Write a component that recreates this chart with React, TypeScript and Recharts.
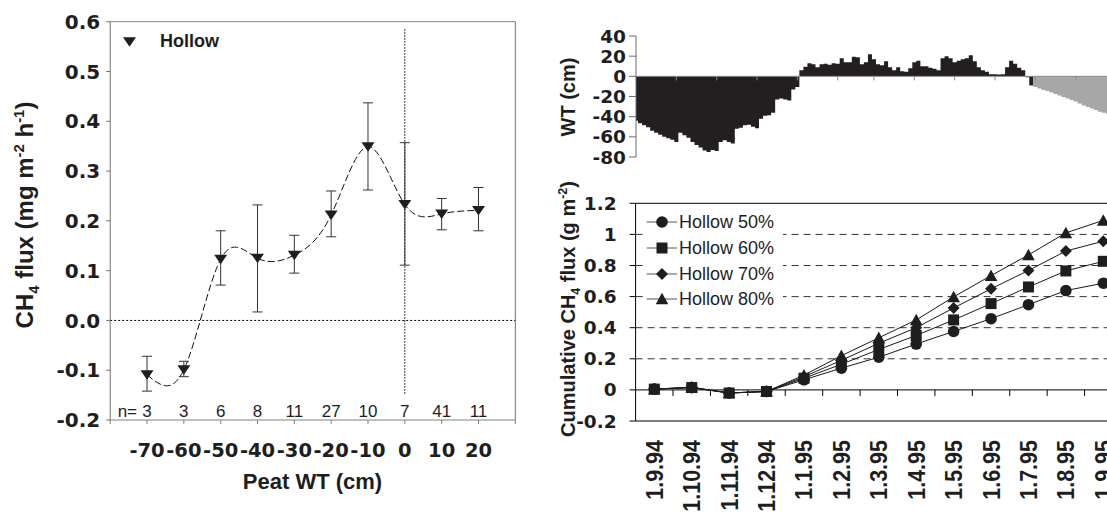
import React from 'react';
import {
  ComposedChart, LineChart, AreaChart, Line, Area, Scatter,
  XAxis, YAxis, ErrorBar, ReferenceLine,
} from 'recharts';

const SANS = '"Liberation Sans", Arial, Helvetica, sans-serif';
const NUM = '"DejaVu Sans", Verdana, sans-serif';
const INK = '#1e1e1e';

// ---- left panel: hollow CH4 flux against peat water table
const peatWt = [-70, -60, -50, -40, -30, -20, -10, 0, 10, 20];
const fluxMean = [-0.109, -0.099, 0.123, 0.125, 0.131, 0.212, 0.349, 0.233, 0.214, 0.221];
const fluxUpper = [-0.072, -0.082, 0.180, 0.232, 0.171, 0.260, 0.437, 0.357, 0.245, 0.267];
const fluxLower = [-0.142, -0.113, 0.071, 0.017, 0.095, 0.168, 0.262, 0.111, 0.182, 0.180];
const sampleN = [3, 3, 6, 8, 11, 27, 10, 7, 41, 11];
const peatTicks = [-80, -70, -60, -50, -40, -30, -20, -10, 0, 10, 20, 30];
const peatLabelled = [-70, -60, -50, -40, -30, -20, -10, 0, 10, 20];
const fluxTicks = [-0.2, -0.1, 0, 0.1, 0.2, 0.3, 0.4, 0.5, 0.6];
const nRowY = -0.193;

// ---- top right: water table record (cm), measured then estimated
const wtMeasured = [
  -44, -46.5, -48.5, -50.5, -54, -56, -58, -60, -61.5, -63,
  -65, -56, -58.5, -61, -65, -68, -70.5, -73.5, -75, -73,
  -74, -65, -63.5, -65, -66.5, -52, -51, -48.5, -48, -50,
  -51.5, -42, -39, -38.5, -36, -23, -22, -23, -24, -13,
  -10.5, 6, 9.5, 13, 12, 9, 12, 12.5, 11.5, 13,
  12.5, 18, 14, 14, 19.5, 19, 12, 14, 22, 17,
  12, 11, 15, 9, 6, 9, 5, 4.5, 8, 14,
  15.5, 10, 10, 8.5, 7.5, 6, 18, 20, 18, 14,
  15.5, 17, 18, 21, 15, 9, 6, 4.5, 2, 2,
  1.7, 2, 9, 15.5, 12.5, 8.5, 6, -1, -9,
];
const wtEstimated = [
  -10.5, -12, -13.5, -14.5, -16, -17.5, -19, -20.5, -22, -23.5,
  -25, -27, -29, -30.5, -32, -33.5, -35, -36, -37, -38, -39,
];
const wtTicks = [-80, -60, -40, -20, 0, 20, 40];
const wtMonthIdx = [10, 20, 30, 40, 50, 59, 69, 79, 89, 99, 109];

// ---- bottom right: cumulative CH4 flux (g m-2)
const cumDates = ['1.9.94', '1.10.94', '1.11.94', '1.12.94', '1.1.95', '1.2.95', '1.3.95',
  '1.4.95', '1.5.95', '1.6.95', '1.7.95', '1.8.95', '1.9.95'];
const hollow50 = [0.005, 0.015, -0.02, -0.01, 0.065, 0.14, 0.21, 0.295, 0.376, 0.458, 0.548, 0.639, 0.686];
const hollow60 = [0.005, 0.015, -0.02, -0.01, 0.075, 0.165, 0.26, 0.35, 0.45, 0.555, 0.662, 0.765, 0.827];
const hollow70 = [0.005, 0.015, -0.02, -0.01, 0.085, 0.19, 0.30, 0.40, 0.527, 0.65, 0.768, 0.893, 0.956];
const hollow80 = [0.005, 0.018, -0.02, -0.01, 0.095, 0.22, 0.335, 0.45, 0.598, 0.735, 0.868, 1.01, 1.09];
const cumTicks = [-0.2, 0, 0.2, 0.4, 0.6, 0.8, 1, 1.2];
const cumGrid = [0.2, 0.4, 0.6, 0.8, 1];

const fluxData = peatWt.map((wt, i) => ({
  wt, flux: fluxMean[i], err: [fluxMean[i] - fluxLower[i], fluxUpper[i] - fluxMean[i]],
}));
const nData = peatWt.map((wt, i) => ({ wt, y: nRowY, n: sampleN[i], first: i === 0 }));
const wtAll = [...wtMeasured, ...wtEstimated];
const wtData = wtAll.map((v, i) => ({ i, v }));
// where the fill turns from measured (black) to estimated (grey), as a fraction of the record
const wtSplit = (wtMeasured.length - 0.5) / (wtAll.length - 1);

const series = [
  { key: 'h50', name: 'Hollow 50%', shape: 'circle', values: hollow50 },
  { key: 'h60', name: 'Hollow 60%', shape: 'square', values: hollow60 },
  { key: 'h70', name: 'Hollow 70%', shape: 'diamond', values: hollow70 },
  { key: 'h80', name: 'Hollow 80%', shape: 'triangle', values: hollow80 },
];
const cumData = cumDates.map((label, idx) => {
  const row: any = { idx, label };
  series.forEach((s) => { row[s.key] = s.values[idx]; });
  return row;
});

function triDown(cx: number, cy: number, key?: string) {
  return <polygon key={key} points={`${cx - 6.5},${cy - 4.5} ${cx + 6.5},${cy - 4.5} ${cx},${cy + 5}`} fill={INK} />;
}

function marker(shape: string, cx: number, cy: number, key?: string) {
  if (shape === 'circle') return <circle key={key} cx={cx} cy={cy} r={5.8} fill={INK} />;
  if (shape === 'square') return <rect key={key} x={cx - 5.5} y={cy - 5.5} width={11} height={11} fill={INK} />;
  if (shape === 'diamond') return <polygon key={key} points={`${cx},${cy - 6} ${cx + 6},${cy} ${cx},${cy + 6} ${cx - 6},${cy}`} fill={INK} />;
  return <polygon key={key} points={`${cx},${cy - 6.2} ${cx + 6.3},${cy + 5.3} ${cx - 6.3},${cy + 5.3}`} fill={INK} />;
}

const PeatTick = ({ x, y, payload }: any) => {
  if (!peatLabelled.includes(payload.value)) return <g />;
  return (
    <text x={x} y={y + 30.5} textAnchor="middle" fontFamily={NUM} fontWeight="bold" fontSize={19.5} fill={INK}>
      {payload.value}
    </text>
  );
};

const DateTick = ({ x, y, payload }: any) => (
  <g transform={`translate(${x},${y}) rotate(-90) scale(1,1.1)`}>
    <text x={0} y={7.7} textAnchor="end" fontFamily={SANS} fontWeight="bold" fontSize={21.5} fill={INK}>
      {cumDates[payload.value]}
    </text>
  </g>
);

const NLabel = (p: any) => (
  <g>
    {p.payload.first && (
      <text x={p.cx - 10} y={p.cy} textAnchor="end" fontFamily={SANS} fontSize={17} fill={INK}>n=</text>
    )}
    <text x={p.cx} y={p.cy} textAnchor="middle" fontFamily={SANS} fontSize={17} fill={INK}>{p.payload.n}</text>
  </g>
);

const numTick = (size: number) => ({ fontFamily: NUM, fontWeight: 'bold', fontSize: size, fill: INK });

function FluxPanel() {
  return (
    <ComposedChart width={540} height={514} data={fluxData} margin={{ top: 21.7, right: 24.7, bottom: 34, left: 0 }}>
      <XAxis type="number" dataKey="wt" domain={[-80, 30]} ticks={peatTicks} interval={0} height={60}
        tickSize={4} axisLine={{ stroke: '#808080' }} tickLine={{ stroke: '#808080' }} tick={PeatTick} />
      <YAxis type="number" domain={[-0.2, 0.6]} ticks={fluxTicks} interval={0} width={110.2}
        tickSize={4} tickMargin={6} axisLine={{ stroke: '#707070' }} tickLine={{ stroke: '#707070' }}
        tickFormatter={(v: number) => v.toFixed(1)} tick={numTick(20)} />
      <ReferenceLine y={0.6} stroke="#808080" />
      <ReferenceLine x={30} stroke="#707070" />
      <ReferenceLine y={0} stroke="#000" strokeDasharray="2 2" />
      <ReferenceLine segment={[{ x: 0, y: 0.585 }, { x: 0, y: -0.15 }]} stroke="#000" strokeDasharray="1.5 1.5" />
      <Line dataKey="flux" type="natural" stroke="#111" strokeWidth={1} strokeDasharray="7 3"
        dot={(p: any) => triDown(p.cx, p.cy, `t${p.index}`)} activeDot={false} isAnimationActive={false}>
        <ErrorBar dataKey="err" width={5} stroke="#333" strokeWidth={1} direction="y" />
      </Line>
      <Scatter data={nData} dataKey="y" shape={NLabel} isAnimationActive={false} />
    </ComposedChart>
  );
}

function WtPanel() {
  return (
    <AreaChart width={556} height={150} data={wtData} margin={{ top: 16, right: 0, bottom: 13, left: 0 }}>
      <defs>
        <linearGradient id="wtFill" x1="0" y1="0" x2="1" y2="0">
          <stop offset={0} stopColor="#231f20" />
          <stop offset={wtSplit} stopColor="#231f20" />
          <stop offset={wtSplit} stopColor="#a7a7a7" />
          <stop offset={1} stopColor="#a7a7a7" />
        </linearGradient>
      </defs>
      <XAxis dataKey="i" hide />
      <YAxis type="number" domain={[-80, 40]} ticks={wtTicks} interval={0} width={76}
        tickSize={7} tickMargin={3} axisLine={{ stroke: '#6d6d6d' }} tickLine={{ stroke: '#6d6d6d' }}
        tick={numTick(18.5)} />
      <Area dataKey="v" type="step" baseValue={0} stroke="none" fill="url(#wtFill)" fillOpacity={1}
        dot={false} activeDot={false} isAnimationActive={false} />
      <ReferenceLine y={0} stroke="#8a8a8a" />
      {wtMonthIdx.map((i) => (
        <ReferenceLine key={i} segment={[{ x: i, y: 0 }, { x: i, y: -4 }]} stroke="#8a8a8a" />
      ))}
    </AreaChart>
  );
}

function CumPanel() {
  return (
    <LineChart width={562} height={334} data={cumData} margin={{ top: 23.3, right: 0, bottom: 0, left: 0 }}>
      <XAxis type="number" dataKey="idx" domain={[-0.5, 12.5]} ticks={cumDates.map((_, i) => i)} interval={0}
        height={93} tickSize={0} tickMargin={19} axisLine={{ stroke: '#000' }} tickLine={false} tick={DateTick} />
      <YAxis type="number" domain={[-0.2, 1.2]} ticks={cumTicks} interval={0} width={75.6}
        tickSize={6} tickMargin={13} axisLine={{ stroke: '#000' }} tickLine={{ stroke: '#000' }}
        tickFormatter={(v: number) => String(v)} tick={numTick(18.5)} />
      {cumGrid.map((v) => (
        <ReferenceLine key={v} y={v} stroke="#333" strokeDasharray="7 5" />
      ))}
      <ReferenceLine y={1.2} stroke="#000" />
      <ReferenceLine y={0} stroke="#000" />
      {cumDates.map((_, i) => (
        <ReferenceLine key={`b${i}`} segment={[{ x: i + 0.5, y: 0 }, { x: i + 0.5, y: -0.039 }]} stroke="#000" />
      ))}
      {series.map((s) => (
        <Line key={s.key} dataKey={s.key} type="linear" stroke="#1a1a1a" strokeWidth={1}
          dot={(p: any) => marker(s.shape, p.cx, p.cy, `${s.key}${p.index}`)} activeDot={false}
          isAnimationActive={false} />
      ))}
    </LineChart>
  );
}

const sup = { fontSize: '0.62em', verticalAlign: 'super', lineHeight: 0 } as const;
const sub = { fontSize: '0.62em', verticalAlign: 'sub', lineHeight: 0 } as const;

function Title({ x, y, size, rotate, children, weight = 'bold' }: any) {
  return (
    <div style={{
      position: 'absolute', left: x, top: y, transform: `translate(-50%,-50%)${rotate ? ' rotate(-90deg)' : ''}`,
      whiteSpace: 'nowrap', fontFamily: SANS, fontWeight: weight, fontSize: size, lineHeight: 1, color: INK,
    }}>
      {children}
    </div>
  );
}

export default function App() {
  const legendRows = [222, 248, 273.5, 299];
  return (
    <div style={{ position: 'absolute', left: 0, top: 0, width: 1107, height: 514, overflow: 'hidden', background: '#fff' }}>
      <div style={{ position: 'absolute', left: 0, top: 0 }}><FluxPanel /></div>
      <div style={{ position: 'absolute', left: 560, top: 20 }}><WtPanel /></div>
      <div style={{ position: 'absolute', left: 560, top: 180 }}><CumPanel /></div>

      <Title x={25} y={214.5} size={24} rotate>
        CH<span style={sub}>4</span> flux (mg m<span style={sup}>-2</span> h<span style={sup}>-1</span>)
      </Title>
      <Title x={312.5} y={482.4} size={22}>Peat WT (cm)</Title>
      <Title x={568} y={96.5} size={20} rotate>WT (cm)</Title>
      <Title x={568} y={309} size={20} rotate>
        Cumulative CH<span style={sub}>4</span> flux (g m<span style={sup}>-2</span>)
      </Title>

      <svg style={{ position: 'absolute', left: 118, top: 34 }} width={24} height={16}>
        {triDown(11.5, 7.7)}
      </svg>
      <div style={{ position: 'absolute', left: 160, top: 31.5, fontFamily: SANS, fontWeight: 'bold', fontSize: 18, lineHeight: 1, color: INK }}>
        Hollow
      </div>

      <div style={{ position: 'absolute', left: 644, top: 209, width: 139, height: 102, background: '#fff' }} />
      {series.map((s, i) => (
        <React.Fragment key={s.key}>
          <svg style={{ position: 'absolute', left: 644, top: legendRows[i] - 8 }} width={34} height={16}>
            <line x1={2.7} y1={8} x2={33} y2={8} stroke="#555" strokeWidth={1} />
            {marker(s.shape, 18, 8)}
          </svg>
          <div style={{ position: 'absolute', left: 679, top: legendRows[i] - 9, fontFamily: SANS, fontSize: 18, lineHeight: 1, color: INK, whiteSpace: 'nowrap' }}>
            {s.name}
          </div>
        </React.Fragment>
      ))}
    </div>
  );
}
